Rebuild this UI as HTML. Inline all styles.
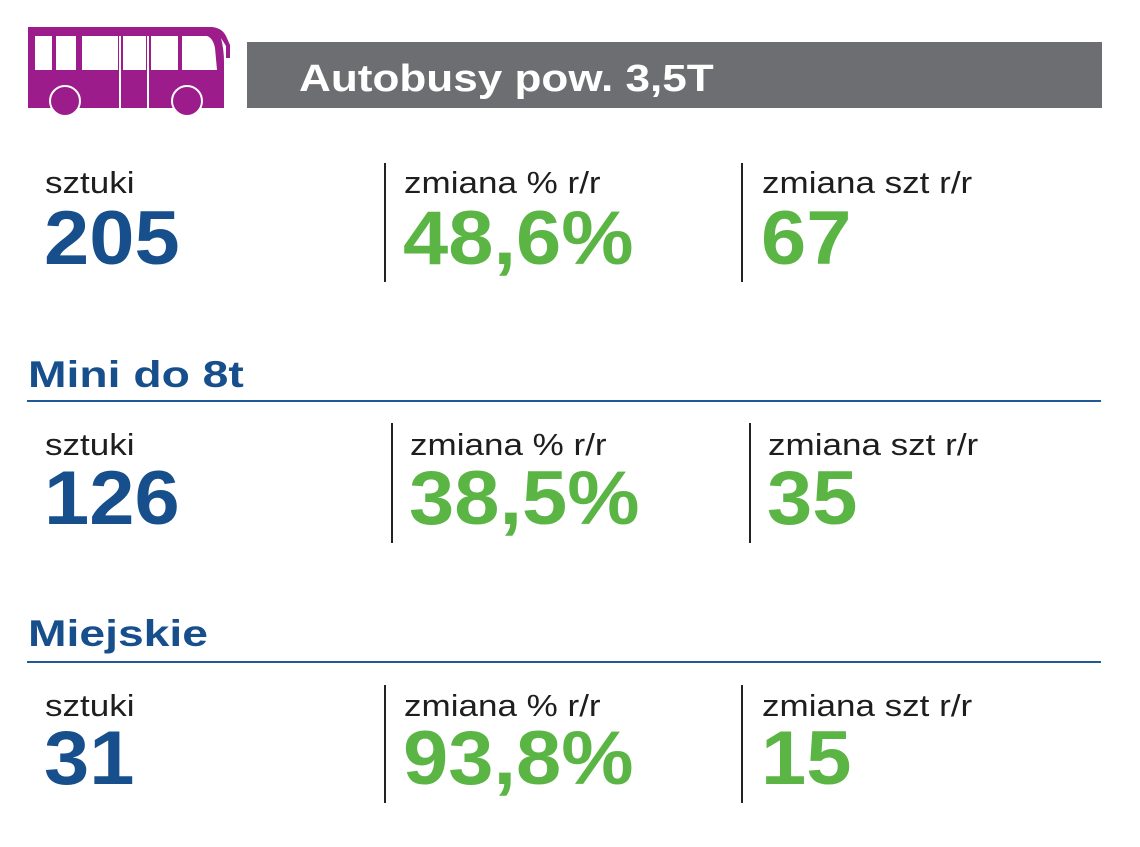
<!DOCTYPE html>
<html><head><meta charset="utf-8"><style>
html,body{margin:0;padding:0;background:#fff;}
body{width:1140px;height:847px;position:relative;overflow:hidden;font-family:"Liberation Sans",sans-serif;}
.a{position:absolute;white-space:nowrap;line-height:1;transform-origin:0 0;}
.lab{font-size:31px;color:#1e1e1e;transform:scaleX(1.13);}
.num{font-size:76px;font-weight:bold;transform:scaleX(1.07);}
.b{color:#174f8c;}
.g{color:#5bb544;}
.h{font-size:37px;font-weight:bold;color:#174f8c;transform:scaleX(1.25);}
.v{position:absolute;width:2px;background:#222;}
.hl{position:absolute;left:27px;width:1074px;height:2px;background:#1f5a96;}
</style></head><body>
<svg class="a" style="left:25px;top:25px" width="212" height="96" viewBox="25 25 212 96">
<path d="M28 27 H212 Q222 28 226 36 L230 45 V58 H226 V46 L221 38 Q224 50 224 62 V108 H28 Z" fill="#9b1c8a"/>
<rect x="35" y="36" width="17" height="34" fill="#fff"/>
<rect x="56" y="36" width="20" height="34" fill="#fff"/>
<rect x="82" y="36" width="36" height="34" fill="#fff"/>
<rect x="123" y="36" width="23" height="34" fill="#fff"/>
<rect x="151" y="36" width="27" height="34" fill="#fff"/>
<path d="M182 36 H207 Q213 38 215 48 L217 70 H182 Z" fill="#fff"/>
<line x1="120" y1="36" x2="120" y2="108" stroke="#fff" stroke-width="2"/>
<line x1="148" y1="36" x2="148" y2="108" stroke="#fff" stroke-width="2"/>
<circle cx="65" cy="101" r="15" fill="#9b1c8a" stroke="#fff" stroke-width="2"/>
<circle cx="187" cy="101" r="15" fill="#9b1c8a" stroke="#fff" stroke-width="2"/>
</svg>
<div style="position:absolute;left:247px;top:42px;width:855px;height:66px;background:#6d6e71"></div>
<div class="a" style="left:299px;top:60px;font-size:38px;font-weight:bold;color:#fff;transform:scaleX(1.16)">Autobusy pow. 3,5T</div>

<div class="a lab" style="left:45px;top:167px">sztuki</div>
<div class="a lab" style="left:404px;top:167px">zmiana % r/r</div>
<div class="a lab" style="left:762px;top:167px">zmiana szt r/r</div>
<div class="a num b" style="left:44px;top:201px">205</div>
<div class="a num g" style="left:403px;top:201px">48,6%</div>
<div class="a num g" style="left:761px;top:201px">67</div>
<div class="v" style="left:384px;top:163px;height:119px"></div>
<div class="v" style="left:741px;top:163px;height:119px"></div>

<div class="a h" style="left:28px;top:356px">Mini do 8t</div>
<div class="hl" style="top:400px"></div>
<div class="a lab" style="left:45px;top:429px">sztuki</div>
<div class="a lab" style="left:410px;top:429px">zmiana % r/r</div>
<div class="a lab" style="left:768px;top:429px">zmiana szt r/r</div>
<div class="a num b" style="left:44px;top:461px">126</div>
<div class="a num g" style="left:409px;top:461px">38,5%</div>
<div class="a num g" style="left:767px;top:461px">35</div>
<div class="v" style="left:391px;top:423px;height:120px"></div>
<div class="v" style="left:749px;top:423px;height:120px"></div>

<div class="a h" style="left:28px;top:615px">Miejskie</div>
<div class="hl" style="top:661px"></div>
<div class="a lab" style="left:45px;top:690px">sztuki</div>
<div class="a lab" style="left:404px;top:690px">zmiana % r/r</div>
<div class="a lab" style="left:762px;top:690px">zmiana szt r/r</div>
<div class="a num b" style="left:44px;top:721px">31</div>
<div class="a num g" style="left:403px;top:721px">93,8%</div>
<div class="a num g" style="left:761px;top:721px">15</div>
<div class="v" style="left:384px;top:685px;height:118px"></div>
<div class="v" style="left:741px;top:685px;height:118px"></div>
</body></html>
